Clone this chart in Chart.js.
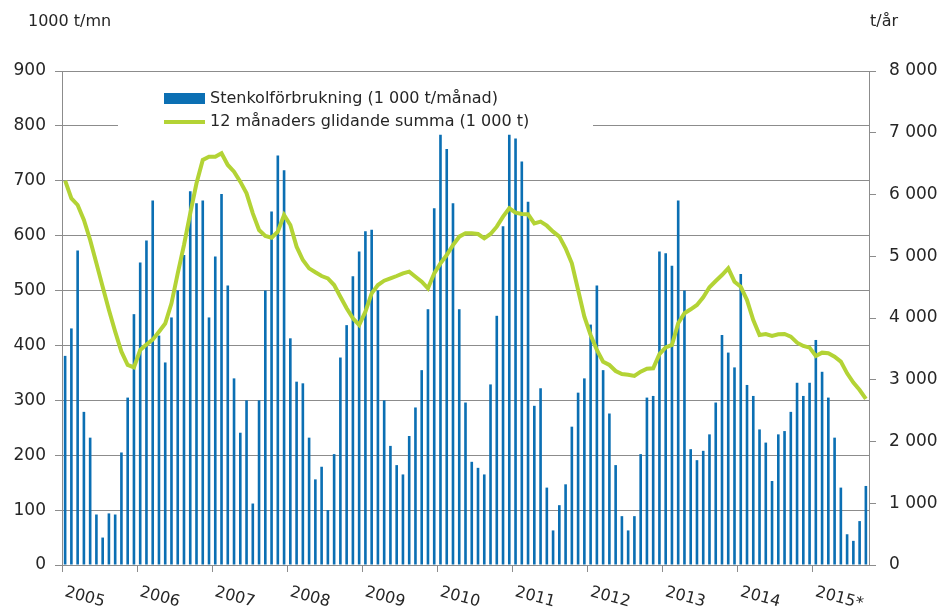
<!DOCTYPE html>
<html>
<head>
<meta charset="utf-8">
<script src="https://cdn.jsdelivr.net/npm/chart.js@4.4.1/dist/chart.umd.min.js"></script>
<style>
  body { margin: 0; background: #fff; }
</style>
</head>
<body>
<canvas id="coalChart" width="941" height="615"></canvas>
<script>
// DATA

let years = [2005, 2006, 2007, 2008, 2009, 2010, 2011, 2012, 2013, 2014, 2015];
let yearLabels = ["2005", "2006", "2007", "2008", "2009", "2010", "2011", "2012", "2013", "2014", "2015*"];
let monthsIn2015 = 9;

// monthly consumption, 1 000 t
let monthly = [
  381, 431, 573, 279, 232, 92, 50, 94, 92, 205, 305, 457,
  551, 591, 664, 418, 369, 451, 500, 565, 681, 659, 664, 451,
  562, 676, 509, 340, 241, 300, 112, 300, 500, 644, 746, 719,
  413, 334, 331, 232, 156, 179, 100, 202, 378, 437, 526, 571,
  608, 611, 500, 300, 217, 182, 165, 235, 287, 355, 466, 650,
  784, 758, 659, 466, 296, 188, 177, 165, 329, 454, 617, 784,
  777, 735, 662, 290, 322, 141, 63, 109, 147, 252, 314, 340,
  438, 509, 355, 276, 182, 89, 63, 89, 202, 305, 308, 571,
  568, 545, 664, 500, 211, 191, 208, 238, 296, 419, 387, 360,
  530, 328, 308, 247, 223, 153, 238, 244, 279, 332, 308, 332,
  410, 352, 305, 232, 141, 56, 44, 80, 144
];

// 12 month moving sum, 1 000 t
let movingSum = [
  6224, 5938, 5830, 5587, 5263, 4885, 4507, 4130, 3779, 3455, 3239, 3201,
  3482, 3570, 3650, 3779, 3910, 4238, 4723, 5182, 5695, 6181, 6559, 6612,
  6612, 6667, 6478, 6370, 6208, 6019, 5695, 5425, 5330, 5300, 5400, 5668,
  5506, 5155, 4939, 4804, 4740, 4680, 4642, 4534, 4345, 4157, 3995, 3887,
  4102, 4399, 4534, 4604, 4642, 4680, 4723, 4750, 4669, 4588, 4480, 4723,
  4885, 5020, 5182, 5317, 5371, 5371, 5360, 5290, 5360, 5479, 5641, 5776,
  5706, 5684, 5679, 5533, 5560, 5495, 5398, 5317, 5128, 4885, 4453, 4021,
  3725, 3482, 3293, 3239, 3142, 3093, 3082, 3061, 3131, 3179, 3185, 3415,
  3525, 3563, 3914, 4076, 4141, 4211, 4335, 4497, 4599, 4696, 4804, 4588,
  4507, 4291, 3968, 3725, 3741, 3709, 3736, 3741, 3698, 3600, 3547, 3520,
  3385, 3439, 3428, 3374, 3293, 3104, 2953, 2834, 2690
];

let barLabel = "Stenkolförbrukning (1 000 t/månad)";
let lineLabel = "12 månaders glidande summa (1 000 t)";
let leftTitle = "1000 t/mn";
let rightTitle = "t/år";

// month keys for the category axis
let months = [];
years.forEach((y, k) => {
  let n = k == years.length - 1 ? monthsIn2015 : 12;
  for (let m = 1; m <= n; m++) months.push(y + "-" + m);
});

// STYLE

let barColor = "#0b6fb3";
let lineColor = "#b3d335";
let gridColor = "#8c8c8c";
let textColor = "#262626";
let fontFamily = "'DejaVu Sans', Verdana, sans-serif";

Chart.defaults.font.family = fontFamily;
Chart.defaults.font.size = 17;
Chart.defaults.color = textColor;

function spaced(v) {
  return String(v).replace(/\B(?=(\d{3})+(?!\d))/g, " ");
}

// LEGEND INSIDE PLOT (white box over the grid)

const legendBox = {
  id: "legendBox",
  beforeDatasetsDraw(chart) {
    let ctx = chart.ctx;
    ctx.save();
    ctx.fillStyle = "#fff";
    ctx.fillRect(118, 80, 475, 52);
    ctx.fillStyle = barColor;
    ctx.fillRect(164, 93, 41, 11);
    ctx.strokeStyle = lineColor;
    ctx.lineWidth = 4;
    ctx.beginPath();
    ctx.moveTo(164, 122);
    ctx.lineTo(205, 122);
    ctx.stroke();
    ctx.fillStyle = textColor;
    ctx.font = "16px " + fontFamily;
    ctx.textBaseline = "middle";
    ctx.fillText(barLabel, 210, 99);
    ctx.fillText(lineLabel, 210, 122);
    ctx.restore();
  },
};

// AXIS TITLES + SLANTED YEAR LABELS

const extraText = {
  id: "extraText",
  afterDraw(chart) {
    let ctx = chart.ctx;
    let x = chart.scales.x;
    let half = (x.getPixelForValue(1) - x.getPixelForValue(0)) / 2;
    ctx.save();
    ctx.fillStyle = textColor;
    ctx.font = "16px " + fontFamily;
    ctx.textBaseline = "middle";
    ctx.fillText(leftTitle, 28, 22);
    ctx.fillText(rightTitle, 870, 22);

    yearLabels.forEach((lbl, k) => {
      let tx = x.getPixelForValue(k * 12) - half;
      ctx.save();
      ctx.translate(tx + 3, 592);
      ctx.rotate((15 * Math.PI) / 180);
      ctx.textAlign = "left";
      ctx.fillText(lbl, 0, 0);
      ctx.restore();
    });
    ctx.restore();
  },
};

const ctx = document.getElementById("coalChart").getContext("2d");

const coalChart = new Chart(ctx, {
  type: "bar",
  data: {
    labels: months,
    datasets: [
      {
        type: "bar",
        label: barLabel,
        data: monthly,
        yAxisID: "y",
        backgroundColor: barColor,
        categoryPercentage: 1,
        barPercentage: 0.42,
        order: 1,
      },
      {
        type: "line",
        label: lineLabel,
        data: movingSum,
        yAxisID: "y2",
        borderColor: lineColor,
        borderWidth: 4,
        pointRadius: 0,
        tension: 0,
        order: 0,
      },
    ],
  },
  plugins: [legendBox, extraText],
  options: {
    responsive: false,
    animation: false,
    layout: { padding: { top: 71, left: 0, right: 0, bottom: 0 } },
    plugins: {
      legend: { display: false },
      tooltip: { enabled: false },
    },
    scales: {
      x: {
        offset: true,
        ticks: { display: false, autoSkip: false },
        grid: {
          offset: true,
          drawOnChartArea: false,
          drawTicks: true,
          tickLength: 7,
          tickColor: (c) => (c.index % 12 == 0 ? gridColor : "rgba(0,0,0,0)"),
        },
        border: { display: true, color: gridColor, width: 1 },
        afterFit: (scale) => {
          scale.height = 50;
        },
      },
      y: {
        position: "left",
        min: 0,
        max: 900,
        ticks: { stepSize: 100, padding: 9, color: textColor },
        grid: { color: gridColor, tickLength: 7, lineWidth: 1 },
        border: { display: true, color: gridColor },
        afterFit: (scale) => {
          scale.width = 62;
        },
      },
      y2: {
        position: "right",
        min: 0,
        max: 8000,
        ticks: {
          stepSize: 1000,
          padding: 13,
          color: textColor,
          callback: (v) => spaced(v),
        },
        grid: { drawOnChartArea: false, color: gridColor, tickLength: 7 },
        border: { display: true, color: gridColor },
        afterFit: (scale) => {
          scale.width = 72;
        },
      },
    },
  },
});
</script>
</body>
</html>
